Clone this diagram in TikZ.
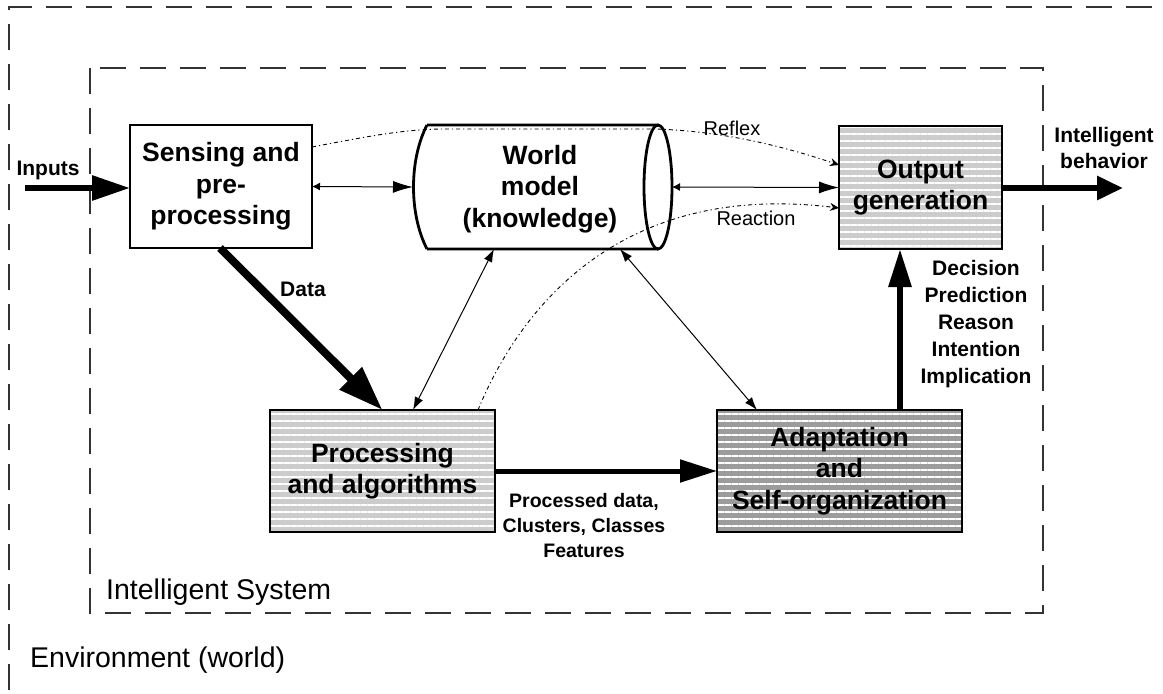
\documentclass[tikz,border=0pt]{standalone}
\usepackage{fontspec}
\setmainfont{Liberation Sans}
\usetikzlibrary{arrows.meta,calc,patterns.meta}
\begin{document}
\begin{tikzpicture}[x=1pt,y=-1pt,
  boxtxt/.style={font=\fontsize{26.5}{31.5}\selectfont\bfseries, align=center},
  lbl/.style={font=\fontsize{21}{26}\selectfont\bfseries, align=center, inner sep=0pt},
  thinlbl/.style={font=\fontsize{20}{24}\selectfont, inner sep=0pt},
  bigtxt/.style={font=\fontsize{28.5}{32}\selectfont, inner sep=0pt, anchor=west},
  blockbox/.style={draw, line width=2.8pt, outer sep=0pt, inner sep=0pt},
  lightfill/.style={preaction={fill=gray!40}, pattern={Lines[angle=0,distance=7pt,line width=2.6pt]}, pattern color=white},
  darkfill/.style={preaction={fill=gray!78}, pattern={Lines[angle=0,distance=7pt,line width=2.6pt]}, pattern color=white},
  regiondash/.style={draw=black!80, line width=1.5pt, dash pattern=on 26pt off 14pt},
  thinarrow/.style={line width=1pt, {Latex[length=13pt,width=9pt]}-{Latex[length=13pt,width=9pt]}},
  dotarrow/.style={line width=0.9pt, dash pattern=on 4pt off 3pt on 1.2pt off 3pt, -{Stealth[length=9pt,width=8pt]}},
  thickarrow/.style={line width=6pt, -{Triangle[length=38pt,width=24pt]}}
]
\useasboundingbox (0,0) rectangle (1163,694);
% environment and system borders
\draw[regiondash] (9,690) -- (9,7) -- (1163,7);
\draw[regiondash] (90,68) rectangle (1043,613);

% blocks
\node[blockbox, minimum width=182pt, minimum height=123pt, boxtxt] (snp) at (221,186.5) {Sensing and\\pre-\\processing};
\node[outer sep=0pt, inner sep=0pt, minimum width=259pt, minimum height=124pt] (wm) at (542.5,187) {};
\draw[line width=2.8pt, line join=round] (427,125) -- (658,125)
  (427,249) -- (658,249)
  (427,125) .. controls (409,160) and (409,214) .. (427,249);
\draw[line width=2.8pt] (658,187) ellipse [x radius=14, y radius=62];
\node[boxtxt] (wmt) at (540,189) {World\\model\\(knowledge)};
\node[blockbox, lightfill, minimum width=163pt, minimum height=123pt] (og) at (920.5,187.5) {};
\node[boxtxt] at (og) {Output\\generation};
\node[blockbox, lightfill, minimum width=225pt, minimum height=122pt] (pa) at (382.5,471) {};
\node[boxtxt] at (pa) {Processing\\and algorithms};
\node[blockbox, darkfill, minimum width=245pt, minimum height=122pt] (ad) at (839.5,471) {};
\node[boxtxt] at (ad) {Adaptation\\and\\Self-organization};

% free ends
\coordinate (inp) at (25,188);
\coordinate (ib) at (1123,188);

% thick arrows
\draw[thickarrow] (inp) -- (inp -| snp.west);
\draw[line width=6pt, -{Triangle[length=26pt,width=23pt]}] (og.east |- ib) -- (ib);
\draw[line width=8pt, -{Triangle[length=45pt,width=30pt]}] ($(snp.south)+(-1,0)$) -- (pa.north);
\draw[line width=5pt, -{Triangle[length=37pt,width=22pt]}] (pa.east) -- (ad.west);
\draw[line width=6pt, -{Triangle[length=38pt,width=22pt]}] ($(ad.north west)+(183,0)$) -- ($(og.south west)+(61,0)$);

% thin arrows
\draw[line width=1pt, {Latex[length=8pt,width=8pt]}-{Latex[length=20pt,width=12pt]}] (snp.east) -- (wm.west);
\draw[line width=1pt, {Latex[length=8pt,width=8pt]}-{Latex[length=20pt,width=12pt]}] (wm.east) -- (og.west);
\draw[thinarrow] ($(pa.north west)+(143,0)$) -- ($(wm.south west)+(81,0)$);
\draw[thinarrow] ($(wm.south west)+(207,0)$) -- ($(ad.north west)+(40,0)$);

% dotted curves
\draw[dotarrow] ($(snp.north east)+(0,22)$) .. controls (370,136) and (400,130) .. (440,129) -- (655,129)
  .. controls (720,131) and (780,145) .. ($(og.north west)+(0,39)$);
\draw[dotarrow] ($(pa.north west)+(208,0)$) .. controls (515,320) and (610,180) .. ($(og.north west)+(0,82)$);

% labels
\node[lbl] (linp) at (48,170) {Inputs};
\node[lbl] (lib) at (1104,148) {Intelligent\\behavior};
\node[lbl] (ldata) at (303,289) {Data};
\node[thinlbl] (lrefl) at (732,128) {Reflex};
\node[thinlbl] (lreac) at (756,218) {Reaction};
\node[lbl, font=\fontsize{19.5}{25}\selectfont\bfseries] (lproc) at (584,526) {Processed data,\\Clusters, Classes\\Features};
\node[lbl, font=\fontsize{21}{27}\selectfont\bfseries] (ldec) at (976,324) {Decision\\Prediction\\Reason\\Intention\\Implication};
\node[bigtxt] (lis) at (106,592) {Intelligent System};
\node[bigtxt] (lenv) at (30,660) {Environment (world)};
\end{tikzpicture}
\end{document}
